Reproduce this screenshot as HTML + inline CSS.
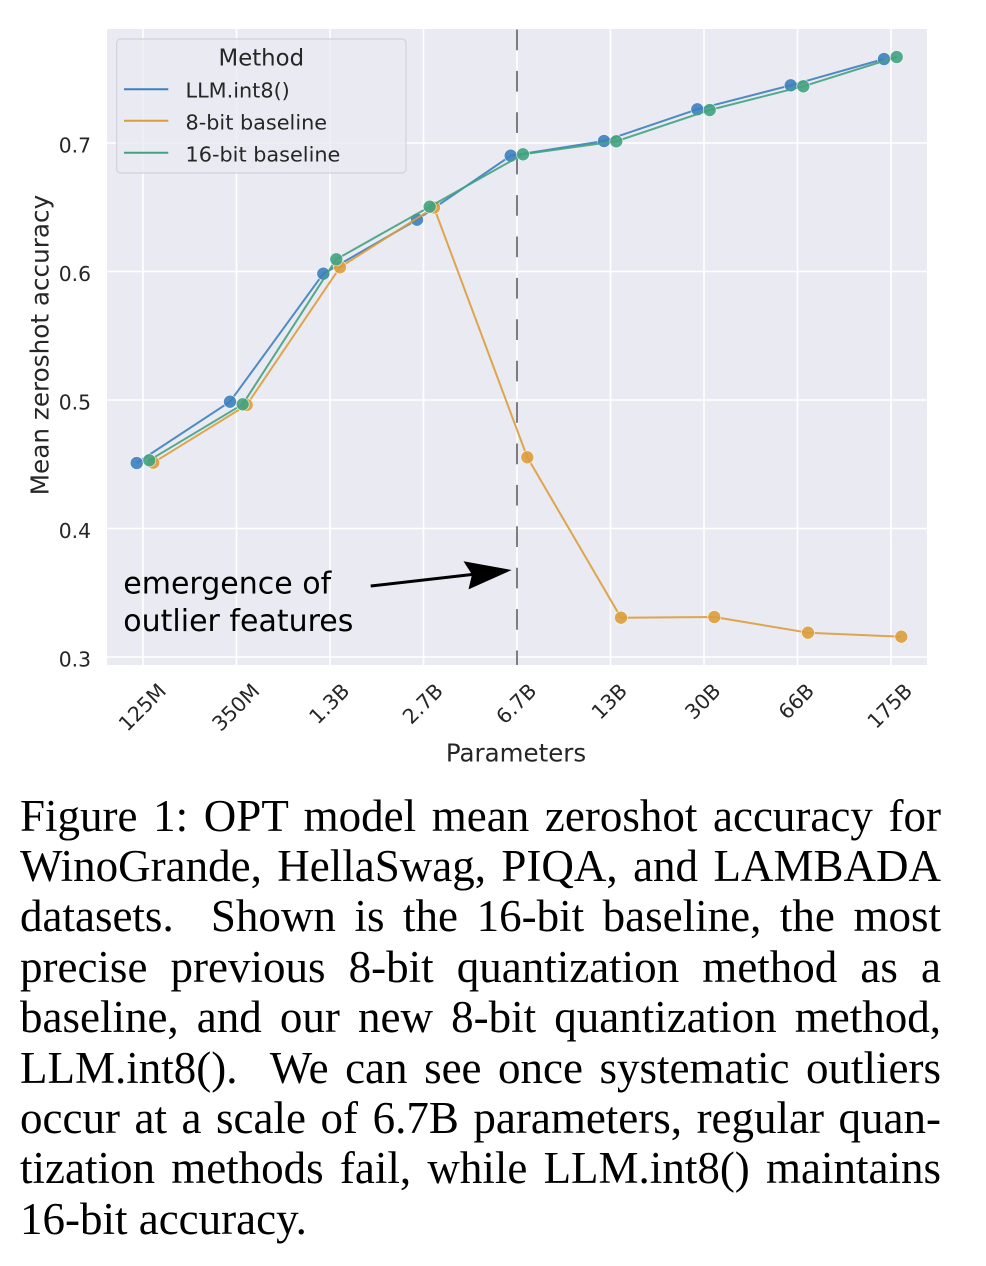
<!DOCTYPE html>
<html>
<head>
<meta charset="utf-8">
<style>
  html, body { margin: 0; padding: 0; background: #ffffff; }
  body { width: 986px; height: 1266px; position: relative; overflow: hidden; }
  svg { position: absolute; left: 0; top: 0; }
  .cap {
    position: absolute; left: 20px; top: 790.6px; width: 921px;
    font-family: "Liberation Serif", "Times New Roman", serif;
    font-size: 45px; line-height: 50.4px; color: #000;
  }
  .cap div { text-align: justify; text-align-last: justify; white-space: normal; height: 50.4px; }
  .cap div.last { text-align: left; text-align-last: left; }
</style>
</head>
<body>
<svg width="986" height="790" viewBox="0 0 986 790" xmlns="http://www.w3.org/2000/svg" font-family="DejaVu Sans, Liberation Sans, sans-serif">
  <rect x="107" y="29" width="820" height="636" fill="#eaeaf2"/>
  <g stroke="#ffffff" stroke-width="1.6">
    <line x1="143" y1="29" x2="143" y2="665"/>
    <line x1="236.5" y1="29" x2="236.5" y2="665"/>
    <line x1="330" y1="29" x2="330" y2="665"/>
    <line x1="423.5" y1="29" x2="423.5" y2="665"/>
    <line x1="517" y1="29" x2="517" y2="665"/>
    <line x1="610.5" y1="29" x2="610.5" y2="665"/>
    <line x1="704" y1="29" x2="704" y2="665"/>
    <line x1="797.5" y1="29" x2="797.5" y2="665"/>
    <line x1="891" y1="29" x2="891" y2="665"/>
    <line x1="107" y1="143" x2="927" y2="143"/>
    <line x1="107" y1="271.5" x2="927" y2="271.5"/>
    <line x1="107" y1="400" x2="927" y2="400"/>
    <line x1="107" y1="528.5" x2="927" y2="528.5"/>
    <line x1="107" y1="657" x2="927" y2="657"/>
  </g>

  <line x1="517" y1="29.5" x2="517" y2="665" stroke="#5f5f5f" stroke-width="1.6" stroke-dasharray="20.7 20.7"/>

  <g>
    <polyline fill="none" stroke="#3d7fbf" stroke-width="2" stroke-opacity="0.9" stroke-linejoin="round"
      points="136.7,463 230,401.7 323.3,273.7 417,219.7 510.7,155.7 604,141 697.3,109.3 790.7,85.3 884,59"/>
    <g fill="#3d7fbf" fill-opacity="0.9" stroke="#ffffff" stroke-width="0.7" stroke-opacity="0.8">
      <circle cx="136.7" cy="463" r="6.5"/>
      <circle cx="230" cy="401.7" r="6.5"/>
      <circle cx="323.3" cy="273.7" r="6.5"/>
      <circle cx="417" cy="219.7" r="6.5"/>
      <circle cx="510.7" cy="155.7" r="6.5"/>
      <circle cx="604" cy="141" r="6.5"/>
      <circle cx="697.3" cy="109.3" r="6.5"/>
      <circle cx="790.7" cy="85.3" r="6.5"/>
      <circle cx="884" cy="59" r="6.5"/>
    </g>
  </g>

  <g>
    <polyline fill="none" stroke="#dc9d3b" stroke-width="2" stroke-opacity="0.9" stroke-linejoin="round"
      points="153.3,462.7 246.7,405 340,267.3 434,207.5 527.3,457.3 621,617.7 714.3,617 808,632.7 901.3,636.7"/>
    <g fill="#dc9d3b" fill-opacity="0.9" stroke="#ffffff" stroke-width="0.7" stroke-opacity="0.8">
      <circle cx="153.3" cy="462.7" r="6.5"/>
      <circle cx="246.7" cy="405" r="6.5"/>
      <circle cx="340" cy="267.3" r="6.5"/>
      <circle cx="434" cy="207.5" r="6.5"/>
      <circle cx="527.3" cy="457.3" r="6.5"/>
      <circle cx="621" cy="617.7" r="6.5"/>
      <circle cx="714.3" cy="617" r="6.5"/>
      <circle cx="808" cy="632.7" r="6.5"/>
      <circle cx="901.3" cy="636.7" r="6.5"/>
    </g>
  </g>

  <g>
    <polyline fill="none" stroke="#42a27f" stroke-width="2" stroke-opacity="0.9" stroke-linejoin="round"
      points="149.3,460.3 242.7,404.3 336.3,259.3 429.7,206.7 523,154.3 616.3,141.3 709.7,110 803.3,86.3 896.7,57"/>
    <g fill="#42a27f" fill-opacity="0.9" stroke="#ffffff" stroke-width="0.7" stroke-opacity="0.8">
      <circle cx="149.3" cy="460.3" r="6.5"/>
      <circle cx="242.7" cy="404.3" r="6.5"/>
      <circle cx="336.3" cy="259.3" r="6.5"/>
      <circle cx="429.7" cy="206.7" r="6.5"/>
      <circle cx="523" cy="154.3" r="6.5"/>
      <circle cx="616.3" cy="141.3" r="6.5"/>
      <circle cx="709.7" cy="110" r="6.5"/>
      <circle cx="803.3" cy="86.3" r="6.5"/>
      <circle cx="896.7" cy="57" r="6.5"/>
    </g>
  </g>

  <line x1="370.7" y1="586" x2="473" y2="574.4" stroke="#000" stroke-width="3"/>
  <polygon points="511.7,570 463.5,561.3 472,574.5 468.5,589.4" fill="#000"/>
  <text x="123.3" y="593.3" font-size="30" fill="#000">emergence of</text>
  <text x="123.3" y="631" font-size="30" fill="#000">outlier features</text>

  <rect x="116.7" y="39" width="289.3" height="134" rx="4" ry="4" fill="#eaeaf2" fill-opacity="0.8" stroke="#d2d2da" stroke-width="1.2"/>
  <text x="261.3" y="65.7" font-size="22.8" fill="#262626" text-anchor="middle">Method</text>
  <line x1="124" y1="89.3" x2="168.3" y2="89.3" stroke="#3d7fbf" stroke-width="2"/>
  <line x1="124" y1="120.7" x2="168.3" y2="120.7" stroke="#dc9d3b" stroke-width="2"/>
  <line x1="124" y1="152.7" x2="168.3" y2="152.7" stroke="#42a27f" stroke-width="2"/>
  <text x="185.5" y="97.3" font-size="20.8" fill="#262626">LLM.int8()</text>
  <text x="185.5" y="129.3" font-size="20.8" fill="#262626">8-bit baseline</text>
  <text x="185.5" y="161.3" font-size="20.8" fill="#262626">16-bit baseline</text>

  <g font-size="20.3" fill="#262626" text-anchor="end">
    <text x="91" y="152.5">0.7</text>
    <text x="91" y="281">0.6</text>
    <text x="91" y="409.5">0.5</text>
    <text x="91" y="538">0.4</text>
    <text x="91" y="666.5">0.3</text>
  </g>

  <g font-size="20.5" fill="#262626" text-anchor="middle">
    <g transform="translate(142,707) rotate(-45)"><text x="0" y="7.5">125M</text></g>
    <g transform="translate(235.5,707) rotate(-45)"><text x="0" y="7.5">350M</text></g>
    <g transform="translate(329,703.4) rotate(-45)"><text x="0" y="7.5">1.3B</text></g>
    <g transform="translate(422.5,703.4) rotate(-45)"><text x="0" y="7.5">2.7B</text></g>
    <g transform="translate(516,703.4) rotate(-45)"><text x="0" y="7.5">6.7B</text></g>
    <g transform="translate(609,701.1) rotate(-45)"><text x="0" y="7.5">13B</text></g>
    <g transform="translate(702.5,701.1) rotate(-45)"><text x="0" y="7.5">30B</text></g>
    <g transform="translate(796,701.1) rotate(-45)"><text x="0" y="7.5">66B</text></g>
    <g transform="translate(889.5,705.7) rotate(-45)"><text x="0" y="7.5">175B</text></g>
  </g>

  <text x="516" y="761.7" font-size="24.5" fill="#262626" text-anchor="middle">Parameters</text>
  <g transform="translate(48.3,345) rotate(-90)">
    <text x="0" y="0" font-size="24.7" fill="#262626" text-anchor="middle">Mean zeroshot accuracy</text>
  </g>
</svg>

<div class="cap">
  <div>Figure 1: OPT model mean zeroshot accuracy for</div>
  <div>WinoGrande, HellaSwag, PIQA, and LAMBADA</div>
  <div>datasets.&nbsp; Shown is the 16-bit baseline, the most</div>
  <div>precise previous 8-bit quantization method as a</div>
  <div>baseline, and our new 8-bit quantization method,</div>
  <div>LLM.int8().&nbsp; We can see once systematic outliers</div>
  <div>occur at a scale of 6.7B parameters, regular quan-</div>
  <div>tization methods fail, while LLM.int8() maintains</div>
  <div class="last">16-bit accuracy.</div>
</div>
</body>
</html>
